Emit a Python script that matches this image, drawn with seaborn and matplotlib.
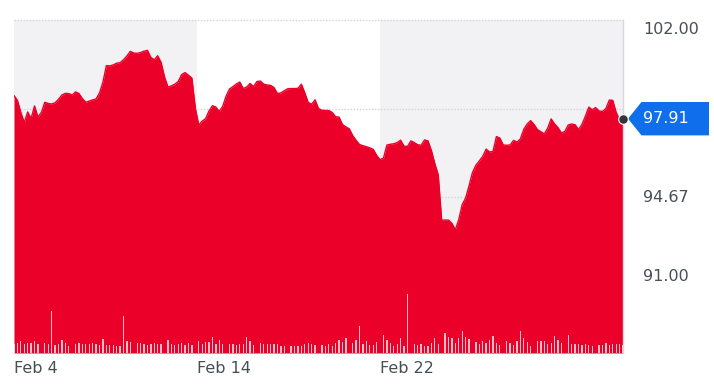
import numpy as np
import pandas as pd
import matplotlib
matplotlib.use("Agg")
import matplotlib.pyplot as plt
import matplotlib.transforms as mtransforms
from matplotlib.patches import Polygon
import seaborn as sns

# ---------------- data ----------------
price = [98.87, 98.67, 98.17, 97.75, 98.19, 97.92, 98.44, 97.98, 98.17, 98.59,
         98.54, 98.52, 98.57, 98.71, 98.89, 98.96, 98.95, 98.89, 99.02, 98.95,
         98.74, 98.59, 98.64, 98.69, 98.73, 98.98, 99.43, 100.11, 100.10, 100.14,
         100.21, 100.23, 100.35, 100.51, 100.70, 100.63, 100.62, 100.65, 100.71, 100.74,
         100.45, 100.35, 100.52, 100.24, 99.64, 99.22, 99.27, 99.34, 99.45, 99.74,
         99.82, 99.71, 99.59, 98.35, 97.65, 97.81, 97.91, 98.23, 98.45, 98.39,
         98.21, 98.42, 98.85, 99.14, 99.24, 99.35, 99.43, 99.16, 99.22, 99.37,
         99.24, 99.45, 99.47, 99.34, 99.31, 99.29, 99.20, 98.95, 98.98, 99.07,
         99.15, 99.16, 99.16, 99.17, 99.34, 98.98, 98.58, 98.51, 98.69, 98.33,
         98.26, 98.25, 98.25, 98.17, 97.99, 97.98, 97.67, 97.57, 97.49, 97.21,
         97.01, 96.84, 96.79, 96.75, 96.70, 96.64, 96.39, 96.21, 96.28, 96.82,
         96.85, 96.87, 96.92, 97.02, 96.77, 96.76, 96.99, 96.92, 96.83, 96.81,
         97.03, 96.99, 96.59, 96.05, 95.58, 93.71, 93.71, 93.71, 93.57, 93.31,
         93.73, 94.35, 94.62, 95.13, 95.68, 95.98, 96.16, 96.35, 96.65, 96.53,
         96.55, 97.17, 97.11, 96.82, 96.81, 96.82, 97.01, 96.94, 97.07, 97.47,
         97.69, 97.83, 97.67, 97.46, 97.37, 97.28, 97.52, 97.90, 97.69, 97.54,
         97.32, 97.38, 97.65, 97.69, 97.66, 97.46, 97.67, 98.01, 98.39, 98.28,
         98.37, 98.23, 98.21, 98.33, 98.68, 98.67, 98.17, 97.86, 97.91]

volume = [87, 103, 123, 87, 100, 103, 117, 93, 0, 103,
          93, 417, 83, 93, 127, 103, 67, 0, 93, 103,
          87, 93, 93, 100, 93, 77, 143, 77, 77, 77,
          67, 67, 367, 117, 107, 0, 100, 100, 87, 77,
          93, 103, 87, 87, 0, 133, 93, 77, 87, 103,
          77, 100, 83, 0, 120, 93, 110, 110, 160, 93,
          127, 87, 0, 87, 87, 77, 87, 93, 160, 117,
          77, 0, 103, 87, 93, 93, 87, 93, 70, 70,
          0, 67, 67, 67, 70, 93, 103, 93, 77, 0,
          77, 70, 93, 67, 100, 127, 110, 153, 0, 100,
          127, 267, 93, 120, 77, 77, 110, 0, 177, 127,
          100, 70, 87, 153, 70, 593, 0, 93, 77, 93,
          70, 70, 100, 153, 87, 0, 200, 160, 150, 103,
          153, 217, 160, 137, 0, 110, 93, 120, 100, 127,
          167, 100, 77, 0, 117, 103, 77, 117, 220, 153,
          110, 70, 0, 120, 120, 117, 93, 103, 167, 133,
          103, 0, 183, 93, 87, 93, 77, 93, 77, 70,
          0, 77, 77, 100, 77, 87, 93, 87, 77]

tick_pos = [0, 53.5, 107]
tick_labels = ["Feb 4", "Feb 14", "Feb 22"]
axis_values = [102.00, 98.33, 94.67, 91.00]
axis_labels = ["102.00", "98.33", "94.67", "91.00"]
shade_spans = [(0, 53.5), (107, 178)]

n = min(len(price), len(volume))
df = pd.DataFrame({"t": np.arange(n), "price": price[:n], "volume": volume[:n]})

# ---------------- style ----------------
sns.set_style("white")
plt.rcParams["font.family"] = ["DejaVu Sans"]

RED = "#EB0029"
TXT = "#464e56"
BLUE = "#0F6EEB"

W, H = 714, 392
fig = plt.figure(figsize=(W / 100, H / 100), dpi=100)
ax = fig.add_axes([14 / W, 39 / H, 609 / W, 333 / H])

ymin, ymax = 88.2, 102.0
ax.set_xlim(0, n - 1)
ax.set_ylim(ymin, ymax)

for a, b in shade_spans:
    ax.axvspan(a, b, color="#f2f2f4", lw=0, zorder=0)
for v in axis_values:
    ax.axhline(v, color="#d4d4d8", lw=1, ls=(0, (1, 1.2)), zorder=1, clip_on=False)

ax.fill_between(df["t"], df["price"], ymin, color=RED, lw=0, zorder=2)
sns.lineplot(data=df, x="t", y="price", color=RED, lw=1, ax=ax, zorder=3)
ax.set_xlabel("")
ax.set_ylabel("")
ax.set_yticks([])

ax.set_xticks(tick_pos, tick_labels)
ax.tick_params(axis="x", length=0, pad=6, labelsize=11.5, labelcolor=TXT)
for lbl in ax.get_xticklabels():
    lbl.set_horizontalalignment("left")

for side in ["top", "left", "bottom"]:
    ax.spines[side].set_visible(False)
ax.spines["right"].set_color("#d8d8dc")
ax.spines["right"].set_linewidth(1)

# volume bars
ax2 = ax.twinx()
ax2.bar(df["t"], df["volume"], width=0.38, color="white", alpha=0.75, lw=0)
ax2.set_ylim(0, 3330)
ax2.set_yticks([])
for s in ax2.spines.values():
    s.set_visible(False)

# right axis labels
blend = mtransforms.blended_transform_factory(ax.transAxes, ax.transData)
px = (ymax - ymin) / 333.0
label_offsets_px = [9, 4, 1, -9]
for v, lab, off in zip(axis_values, axis_labels, label_offsets_px):
    ax.text(1.0328, v - off * px, lab, transform=blend, ha="left", va="center",
            fontsize=11.5, color=TXT, clip_on=False, zorder=5)

# last value marker + label
last_t = df["t"].iloc[-1]
last_v = df["price"].iloc[-1]
ax.scatter([last_t], [last_v], s=48, color="#30363c", edgecolor="white",
           linewidth=0.8, zorder=9, clip_on=False)
hh = 16.7 * px
poly = Polygon([(1.0082, last_v), (1.0304, last_v + hh), (1.1412, last_v + hh),
                (1.1412, last_v - hh), (1.0304, last_v - hh)], closed=True,
               transform=blend, facecolor=BLUE, edgecolor="none",
               clip_on=False, zorder=7)
ax.add_patch(poly)
ax.text(1.0335, last_v, f"{last_v:.2f}", transform=blend, ha="left", va="center",
        fontsize=11.5, color="white", clip_on=False, zorder=8)

fig.savefig("out.png", dpi=100)
